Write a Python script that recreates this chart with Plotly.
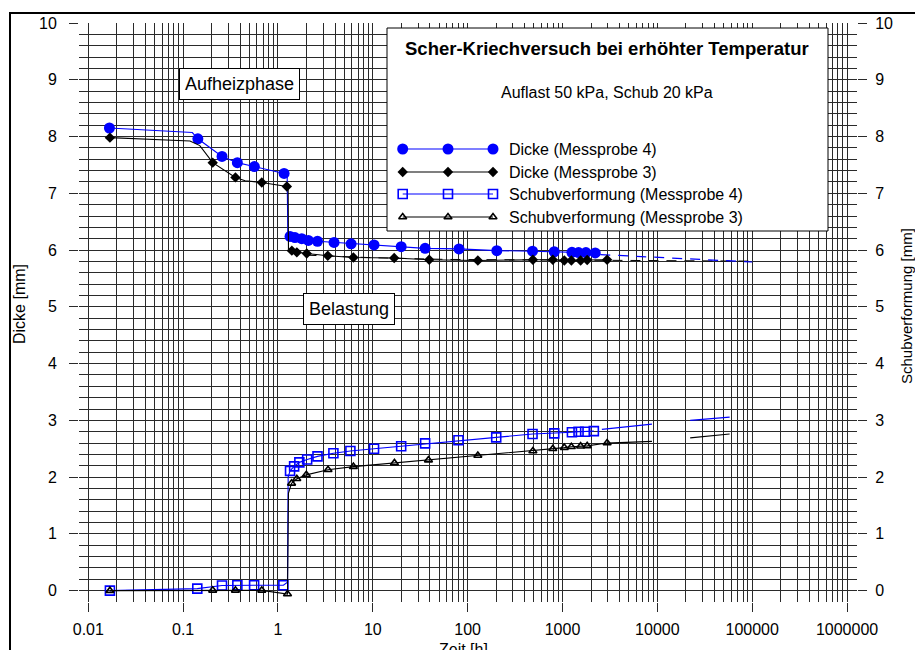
import plotly.graph_objects as go

# ---------------------------------------------------------------
# Scher-Kriechversuch: Dicke und Schubverformung über der Zeit
# ---------------------------------------------------------------

# Dicke (Messprobe 4) – Messpunkte mit Marker
dicke4_t = [0.0167, 0.143, 0.257, 0.373, 0.564, 1.16, 1.34, 1.51, 1.78, 2.09,
            2.61, 3.9, 5.9, 10.3, 19.9, 35.6, 81, 203, 483, 818, 1257, 1476,
            1766, 2213]
dicke4_mm = [8.15, 7.96, 7.65, 7.54, 7.47, 7.35, 6.24, 6.22, 6.20, 6.17,
             6.155, 6.135, 6.11, 6.09, 6.06, 6.03, 6.02, 5.99, 5.98, 5.97,
             5.96, 5.955, 5.955, 5.95]
# Zwischenwerte der Messkurve (ohne Marker)
dicke4_zw_t = [0.125, 1.25, 1.27]
dicke4_zw_mm = [8.07, 7.32, 6.27]
# Extrapolation
dicke4_ext_t = [2500, 100000]
dicke4_ext_mm = [5.92, 5.79]

# Dicke (Messprobe 3)
dicke3_t = [0.0169, 0.205, 0.356, 0.675, 1.24, 1.40, 1.58, 2.01, 3.35, 6.24,
            16.8, 39.3, 128, 487, 790, 1045, 1240, 1552, 1820, 2952]
dicke3_mm = [7.98, 7.54, 7.28, 7.19, 7.12, 5.99, 5.96, 5.94, 5.90, 5.87,
             5.86, 5.83, 5.815, 5.83, 5.83, 5.815, 5.815, 5.815, 5.825, 5.83]
dicke3_zw_t = [0.118, 0.15, 0.45, 1.28, 1.29]
dicke3_zw_mm = [7.92, 7.84, 7.22, 7.10, 6.02]
# Trendlinie
dicke3_trend_t = [2, 10, 60, 4000, 100000]
dicke3_trend_mm = [5.91, 5.865, 5.835, 5.825, 5.805]

# Schubverformung (Messprobe 4)
schub4_t = [0.0169, 0.141, 0.257, 0.373, 0.56, 1.14, 1.34, 1.48, 1.68, 2.03,
            2.61, 3.84, 5.8, 10.3, 19.9, 35.6, 80, 200, 483, 818, 1257, 1476,
            1733, 2140]
schub4_mm = [0.0, 0.035, 0.09, 0.095, 0.095, 0.095, 2.11, 2.19, 2.26, 2.31,
             2.365, 2.42, 2.46, 2.50, 2.545, 2.595, 2.65, 2.70, 2.76, 2.77,
             2.79, 2.80, 2.80, 2.81]
schub4_zw_t = [1.26, 1.28]
schub4_zw_mm = [0.15, 2.0]
schub4_ext_t = [2600, 8770, None, 22200, 57800]
schub4_ext_mm = [2.84, 2.935, None, 3.0, 3.058]

# Schubverformung (Messprobe 3)
schub3_t = [0.0169, 0.205, 0.356, 0.675, 1.26, 1.39, 1.58, 1.99, 3.37, 6.24,
            16.9, 38.6, 128, 487, 790, 1045, 1240, 1552, 1820, 2952]
schub3_mm = [0.0, 0.005, 0.005, 0.005, -0.06, 1.89, 1.97, 2.04, 2.13, 2.185,
             2.25, 2.30, 2.38, 2.46, 2.50, 2.52, 2.535, 2.545, 2.55, 2.60]
schub3_zw_t = [1.29]
schub3_zw_mm = [1.72]
schub3_ext_t = [2952, 8770, None, 22200, 57800]
schub3_ext_mm = [2.60, 2.63, None, 2.69, 2.76]

# Achsenbeschriftung
x_ticks = [0.01, 0.1, 1, 10, 100, 1000, 10000, 100000, 1000000]
x_ticktext = ["0.01", "0.1", "1", "10", "100", "1000", "10000", "100000", "1000000"]
y_ticks = [0, 1, 2, 3, 4, 5, 6, 7, 8, 9, 10]

legend_labels = ["Dicke (Messprobe 4)", "Dicke (Messprobe 3)",
                 "Schubverformung (Messprobe 4)", "Schubverformung (Messprobe 3)"]

BLUE = "#0000FF"
BLACK = "#000000"
GRID = "#2a2a2a"
FONT = "Liberation Sans, Arial, sans-serif"

# figure geometry (pixels)
W, H = 915, 650
PL, PR, PT, PB = 79, 857, 23, 602


def px_x(x):
    return (x - PL) / (PR - PL)


def px_y(y):
    return (PB - y) / (PB - PT)


def merged(t, y, t_extra, y_extra):
    pts = sorted(zip(list(t) + list(t_extra), list(y) + list(y_extra)))
    return [p[0] for p in pts], [p[1] for p in pts]


x_minor = [m * 10 ** d for d in range(-2, 6) for m in range(2, 10)]
y_minor = [k / 5 for k in range(1, 50) if k % 5]

fig = go.Figure()

series = [
    (dicke4_t, dicke4_mm, dicke4_zw_t, dicke4_zw_mm, BLUE,
     dict(symbol="circle", size=11, color=BLUE), "y"),
    (dicke3_t, dicke3_mm, dicke3_zw_t, dicke3_zw_mm, BLACK,
     dict(symbol="diamond", size=8, color=BLACK), "y"),
    (schub4_t, schub4_mm, schub4_zw_t, schub4_zw_mm, BLUE,
     dict(symbol="square-open", size=9, color=BLUE, line=dict(width=1.6, color=BLUE)), "y2"),
    (schub3_t, schub3_mm, schub3_zw_t, schub3_zw_mm, BLACK,
     dict(symbol="triangle-up-open", size=7, color=BLACK, line=dict(width=1.6, color=BLACK)), "y2"),
]

# extrapolations / trend lines
fig.add_trace(go.Scatter(x=dicke3_trend_t, y=dicke3_trend_mm, mode="lines",
                         line=dict(color=BLACK, width=1, dash="10px,8px"),
                         showlegend=False, hoverinfo="skip"))
fig.add_trace(go.Scatter(x=dicke4_ext_t, y=dicke4_ext_mm, mode="lines",
                         line=dict(color=BLUE, width=1.2, dash="10px,8px"),
                         showlegend=False, hoverinfo="skip"))
fig.add_trace(go.Scatter(x=schub4_ext_t, y=schub4_ext_mm, mode="lines",
                         line=dict(color=BLUE, width=1.2), connectgaps=False,
                         yaxis="y2", showlegend=False, hoverinfo="skip"))
fig.add_trace(go.Scatter(x=schub3_ext_t, y=schub3_ext_mm, mode="lines",
                         line=dict(color=BLACK, width=1.2), connectgaps=False,
                         yaxis="y2", showlegend=False, hoverinfo="skip"))

for name, (t, y, tz, yz, col, mk, ax) in zip(legend_labels, series):
    lt, ly = merged(t, y, tz, yz)
    fig.add_trace(go.Scatter(x=lt, y=ly, mode="lines", yaxis=ax,
                             line=dict(color=col, width=1.1),
                             showlegend=False, hoverinfo="skip"))
    fig.add_trace(go.Scatter(x=t, y=y, mode="markers", yaxis=ax, name=name,
                             marker=mk, showlegend=False, cliponaxis=False))

# legend box drawn on a pixel-scaled overlay axis
box_x = [387, 828, 828, 387, 387]
box_y = [28, 28, 231, 231, 28]
fig.add_trace(go.Scatter(x=box_x, y=box_y, xaxis="x3", yaxis="y3", mode="lines",
                         fill="toself", fillcolor="white",
                         line=dict(color=BLACK, width=1),
                         showlegend=False, hoverinfo="skip"))
leg_rows = [149, 172, 194, 217]
leg_marks = [402.7, 448, 493]
for row, (_, _, _, _, col, mk, _) in zip(leg_rows, series):
    fig.add_trace(go.Scatter(x=leg_marks, y=[row] * 3, xaxis="x3", yaxis="y3",
                             mode="lines+markers", line=dict(color=col, width=1.1),
                             marker=mk, showlegend=False, hoverinfo="skip"))

annotations = [
    dict(x=607, y=48, xref="x3", yref="y3", showarrow=False,
         xanchor="center", yanchor="middle",
         text="<b>Scher-Kriechversuch bei erhöhter Temperatur</b>",
         font=dict(size=18.5, color=BLACK, family=FONT)),
    dict(x=607, y=92, xref="x3", yref="y3", showarrow=False,
         xanchor="center", yanchor="middle",
         text="Auflast 50 kPa, Schub 20 kPa",
         font=dict(size=16, color=BLACK, family=FONT)),
]
for row, label in zip(leg_rows, legend_labels):
    annotations.append(dict(x=507, y=row, xref="x3", yref="y3", showarrow=False,
                            xanchor="left", yanchor="middle", text=label,
                            font=dict(size=16, color=BLACK, family=FONT)))

# phase labels
for text, cx, cy in [("Aufheizphase", 239.5, 84), ("Belastung", 349, 309)]:
    annotations.append(dict(x=px_x(cx), y=px_y(cy), xref="paper", yref="paper",
                            xanchor="center", yanchor="middle",
                            showarrow=False, text=text,
                            font=dict(size=18, color=BLACK, family=FONT),
                            bgcolor="white", bordercolor=BLACK, borderwidth=1,
                            borderpad=5))

# axis titles
annotations += [
    dict(x=px_x(19), y=px_y(304), xref="paper", yref="paper", showarrow=False,
         xanchor="center", yanchor="middle",
         text="Dicke [mm]", textangle=-90,
         font=dict(size=16, color=BLACK, family=FONT)),
    dict(x=px_x(906), y=px_y(306), xref="paper", yref="paper", showarrow=False,
         xanchor="center", yanchor="middle",
         text="Schubverformung [mm]", textangle=-90,
         font=dict(size=15, color=BLACK, family=FONT)),
    dict(x=px_x(463), y=px_y(638.5), xref="paper", yref="paper", showarrow=False,
         xanchor="center", yanchor="top", text="Zeit [h]",
         font=dict(size=16, color=BLACK, family=FONT)),
]

grid_common = dict(gridcolor=GRID, gridwidth=1, zeroline=False, showline=False,
                   ticks="outside", ticklen=9, tickcolor=GRID, tickwidth=1,
                   tickfont=dict(size=16, color=BLACK, family=FONT))

fig.update_layout(
    width=W, height=H,
    margin=dict(l=PL, r=W - PR, t=PT, b=H - PB),
    paper_bgcolor="white", plot_bgcolor="white",
    showlegend=False,
    font=dict(family=FONT, color=BLACK),
    xaxis=dict(type="log", range=[-2.098, 6.105], tickmode="array",
               tickvals=x_ticks, ticktext=x_ticktext, showgrid=True,
               minor=dict(tickvals=x_minor, showgrid=True, gridcolor=GRID,
                          gridwidth=1, ticks=""),
               ticklabelstandoff=4, **grid_common),
    yaxis=dict(range=[-0.2, 10], tickmode="array", tickvals=y_ticks,
               showgrid=True,
               minor=dict(tickvals=y_minor, showgrid=True, gridcolor=GRID,
                          gridwidth=1, ticks=""),
               ticklabelstandoff=9, **grid_common),
    yaxis2=dict(range=[-0.2, 10], tickmode="array", tickvals=y_ticks,
                overlaying="y", side="right", showgrid=False,
                ticklabelstandoff=5, **{k: v for k, v in grid_common.items()
                                        if k not in ("gridcolor", "gridwidth")}),
    xaxis3=dict(overlaying="x", range=[PL, PR], visible=False),
    yaxis3=dict(overlaying="y", range=[PB, PT], visible=False),
    annotations=annotations,
    shapes=[dict(type="rect", xref="paper", yref="paper",
                 x0=px_x(10), x1=1.3, y0=-0.3, y1=px_y(13),
                 line=dict(color=BLACK, width=2), layer="above")],
)

fig.write_html("out.html")
